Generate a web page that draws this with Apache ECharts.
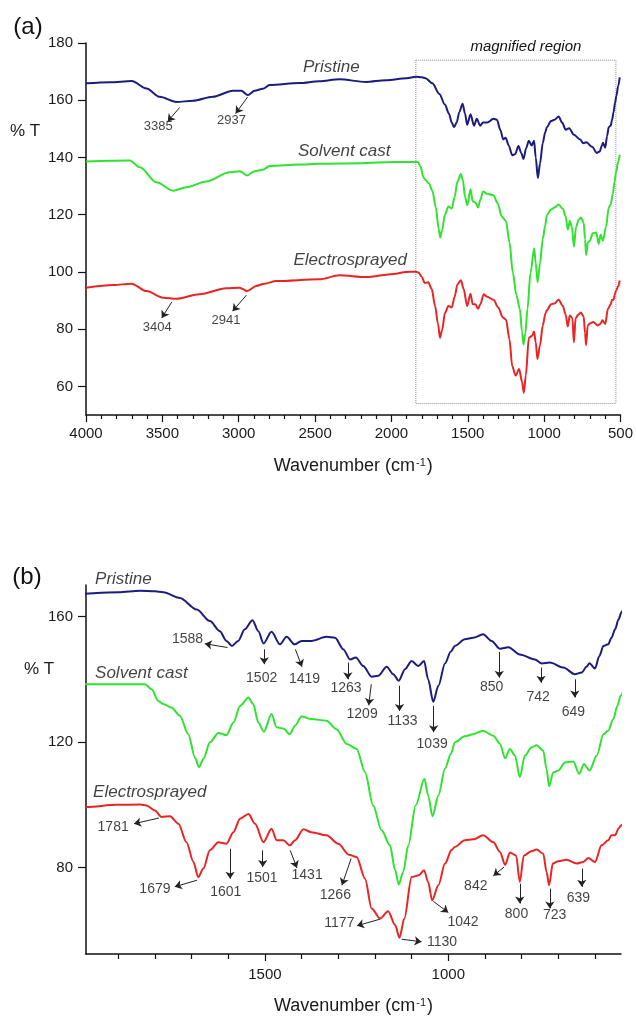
<!DOCTYPE html>
<html>
<head>
<meta charset="utf-8">
<script src="https://cdn.jsdelivr.net/npm/echarts@6/dist/echarts.min.js"></script>
<style>
  html, body { margin: 0; padding: 0; background: #fff; }
  #chart { width: 636px; height: 1016px; }
</style>
</head>
<body>
<div id="chart"></div>
<script>
const FONT = '"Liberation Sans", Arial, sans-serif'

// FTIR spectra: wavenumber (cm-1) and % T
const pristineWn = [4000, 3843, 3700, 3604, 3517, 3408, 3300, 3169, 3038, 2983, 2940, 2896, 2842, 2798, 2603, 2472, 2341, 2167, 2036, 1900, 1840, 1800, 1777, 1732, 1686, 1650, 1623, 1605, 1590, 1573, 1555, 1534, 1518, 1504, 1482, 1459, 1441, 1419, 1400, 1373, 1332, 1309, 1286, 1268, 1252, 1232, 1209, 1191, 1168, 1150, 1135, 1118, 1100, 1082, 1066, 1055, 1041, 1027, 1009, 993, 982, 955, 932, 905, 882, 859, 836, 805, 764, 745, 723, 686, 655, 636, 623, 615, 600, 588, 577, 564, 555, 545, 536, 527, 515, 505]
const pristineT = [165.9, 166.3, 166.7, 164.1, 161.2, 159.4, 159.8, 161.2, 163.3, 163.3, 161.8, 163.3, 164.0, 165.3, 166.0, 166.6, 167.3, 166.4, 167.0, 167.7, 168.2, 168.0, 167.7, 165.9, 162.2, 158.5, 155.3, 152.2, 150.6, 152.2, 155.9, 158.8, 155.3, 151.4, 155.1, 151.1, 153.5, 151.1, 152.2, 152.2, 153.5, 153.2, 149.5, 146.3, 146.9, 144.2, 140.8, 141.1, 144.0, 141.6, 139.5, 143.2, 145.8, 144.2, 145.8, 140.0, 132.8, 137.9, 145.0, 148.8, 150.6, 152.7, 153.2, 154.3, 152.2, 149.7, 150.2, 147.9, 146.3, 145.0, 145.3, 143.7, 141.6, 142.1, 144.0, 145.1, 143.4, 147.4, 150.6, 151.1, 153.2, 155.9, 159.0, 161.5, 165.0, 168.0]

const solventWn = [4000, 3713, 3647, 3538, 3430, 3343, 3212, 3060, 2994, 2946, 2896, 2842, 2798, 2603, 2472, 2200, 1986, 1827, 1809, 1791, 1777, 1755, 1732, 1709, 1691, 1680, 1668, 1650, 1627, 1605, 1586, 1568, 1545, 1532, 1518, 1503, 1482, 1468, 1450, 1432, 1418, 1400, 1373, 1332, 1305, 1277, 1250, 1227, 1205, 1182, 1159, 1145, 1135, 1123, 1109, 1089, 1065, 1055, 1043, 1027, 1009, 993, 982, 955, 932, 905, 877, 859, 845, 832, 818, 805, 791, 773, 759, 741, 732, 725, 714, 700, 682, 659, 643, 630, 615, 595, 577, 564, 550, 539, 530, 515, 505]
const solventT = [138.6, 138.9, 136.6, 131.3, 128.4, 129.6, 131.6, 134.8, 135.2, 133.7, 135.2, 135.7, 137.0, 137.5, 137.8, 138.0, 138.4, 138.4, 136.8, 133.1, 132.1, 131.0, 128.4, 122.5, 115.1, 112.0, 114.6, 119.9, 122.9, 122.2, 126.2, 131.5, 134.2, 132.1, 126.2, 123.3, 128.9, 124.7, 124.3, 122.5, 125.2, 128.1, 127.3, 126.8, 124.1, 119.4, 117.8, 110.4, 99.8, 91.9, 87.1, 79.2, 74.6, 78.6, 87.1, 99.8, 108.3, 103.0, 96.4, 103.0, 111.5, 116.2, 119.9, 121.8, 122.5, 123.6, 122.0, 119.4, 114.8, 117.8, 115.7, 108.8, 115.7, 118.3, 119.0, 117.2, 111.4, 105.9, 110.3, 110.9, 113.5, 113.8, 109.8, 113.0, 110.9, 115.7, 122.5, 123.6, 127.3, 131.5, 134.7, 138.5, 141.0]

const electroWn = [4000, 3821, 3702, 3604, 3495, 3408, 3256, 3082, 2994, 2944, 2885, 2831, 2755, 2472, 2341, 2167, 1986, 1905, 1840, 1823, 1800, 1782, 1759, 1736, 1714, 1695, 1682, 1668, 1650, 1627, 1605, 1586, 1568, 1545, 1527, 1504, 1482, 1468, 1450, 1432, 1418, 1395, 1373, 1332, 1300, 1271, 1250, 1227, 1209, 1186, 1164, 1145, 1133, 1120, 1100, 1080, 1066, 1055, 1044, 1027, 1009, 991, 982, 955, 932, 905, 877, 859, 845, 832, 815, 805, 794, 773, 759, 741, 732, 725, 715, 700, 677, 650, 632, 618, 600, 582, 564, 555, 545, 536, 529, 515, 505]
const electroT = [94.5, 95.4, 95.9, 93.3, 91.0, 90.6, 92.2, 94.3, 94.5, 93.3, 95.1, 95.9, 96.8, 97.4, 98.8, 98.2, 99.3, 100.0, 100.1, 99.8, 98.2, 96.1, 96.4, 94.0, 88.1, 81.8, 77.0, 79.7, 85.6, 88.1, 87.6, 91.3, 95.6, 97.1, 94.0, 88.1, 92.4, 88.7, 88.7, 87.1, 88.7, 92.2, 91.3, 90.3, 87.6, 84.1, 83.4, 76.5, 67.0, 63.8, 66.1, 61.7, 57.7, 63.8, 77.0, 77.6, 79.2, 75.4, 69.6, 74.4, 81.3, 85.6, 86.6, 88.7, 89.0, 90.3, 88.1, 85.0, 80.9, 84.8, 83.9, 75.4, 83.9, 85.2, 85.8, 84.4, 78.6, 74.4, 81.3, 82.0, 82.5, 81.3, 81.8, 83.1, 81.8, 87.1, 88.7, 90.3, 90.3, 92.4, 93.4, 95.0, 97.0]

const seriesNames = ['Pristine', 'Solvent cast', 'Electrosprayed']
const seriesColors = ['#1c1c7e', '#30e330', '#e82424']

// sample name labels: [wavenumber, %T, text]
const nameLabelsA = [[2394, 171.6, 'Pristine'], [2309, 142.3, 'Solvent cast'], [2270, 104.2, 'Electrosprayed']]
const nameLabelsB = [[1886, 171.7, 'Pristine'], [1837, 141.9, 'Solvent cast'], [1814, 104.1, 'Electrosprayed']]

// peak labels: text, text position, arrow start, arrow end (data coords)
const peaksA = [
  ['3385', [3527, 150.9], [3386, 157.5], [3465, 152.6]],
  ['2937', [3047, 153.0], [2942, 161.1], [3020, 155.4]],
  ['3404', [3533, 80.7], [3438, 89.5], [3504, 83.9]],
  ['2941', [3083, 83.2], [2949, 91.9], [3040, 86.3]]
]
const peaksB = [
  ['1588', [1711, 152.7], [1602, 150.1], [1664, 151.3]],
  ['1502', [1509, 140.5], [1502, 149.5], [1502, 144.8]],
  ['1419', [1392, 140.0], [1417, 149.5], [1399, 144.0]],
  ['1263', [1279, 137.0], [1274, 145.3], [1274, 140.0]],
  ['1209', [1235, 128.9], [1210, 138.4], [1217, 131.7]],
  ['1133', [1125, 126.8], [1133, 137.9], [1133, 129.9]],
  ['1039', [1044, 119.4], [1040, 131.5], [1040, 123.1]],
  ['850', [882, 137.4], [861, 148.7], [861, 140.5]],
  ['742', [755, 134.2], [747, 143.7], [747, 138.9]],
  ['649', [659, 129.6], [655, 140.0], [655, 134.2]],
  ['1781', [1914, 92.9], [1789, 95.8], [1857, 94.0]],
  ['1679', [1800, 73.3], [1685, 76.0], [1746, 73.9]],
  ['1601', [1607, 72.3], [1595, 86.0], [1595, 76.5]],
  ['1501', [1508, 76.5], [1506, 85.5], [1506, 80.2]],
  ['1431', [1385, 77.6], [1431, 85.5], [1413, 79.9]],
  ['1266', [1308, 71.2], [1265, 82.9], [1290, 74.4]],
  ['1177', [1297, 62.2], [1186, 63.6], [1249, 61.5]],
  ['1130', [1017, 56.4], [1127, 57.2], [1073, 56.4]],
  ['1042', [960, 62.8], [1041, 69.3], [1000, 65.7]],
  ['842', [925, 74.2], [848, 80.2], [877, 77.4]],
  ['800', [814, 65.1], [805, 74.9], [805, 68.6]],
  ['723', [710, 64.9], [723, 73.3], [723, 67.0]],
  ['639', [645, 70.2], [636, 79.7], [636, 73.9]]
]

const magnifiedBox = [[1840, 174], [530, 54]]

const yTicksA = [60, 80, 100, 120, 140, 160, 180]
const yTicksB = [80, 120, 160]
const xMajorB = [1000, 1500]
const xMinorB = [600, 700, 800, 900, 1100, 1200, 1300, 1400, 1600, 1700, 1800, 1900]

const spectra = [[pristineWn, pristineT], [solventWn, solventT], [electroWn, electroT]]

function zip(xs, ys) {
  return xs.map((x, i) => [x, ys[i]])
}

const axisLine = { show: true, onZero: false, lineStyle: { color: '#111', width: 1.5 } }
const tickLine = { color: '#111', width: 1.2 }
const labelStyle = { color: '#1a1a1a', fontSize: 15, fontFamily: FONT, formatter: (v) => String(v) }
const xName = '{a|Wavenumber (cm}{s|-1}{a|)}'
const xNameStyle = {
  color: '#1a1a1a',
  fontSize: 18,
  fontFamily: FONT,
  rich: {
    a: { fontSize: 18, fontFamily: FONT, color: '#1a1a1a' },
    s: { fontSize: 11, fontFamily: FONT, color: '#1a1a1a', verticalAlign: 'top', padding: [0, 1, 0, 1] }
  }
}

function spectrumSeries(panel) {
  return spectra.map(([wn, t], i) => ({
    type: 'line',
    name: seriesNames[i],
    xAxisIndex: panel === 0 ? 0 : 1,
    yAxisIndex: panel,
    data: zip(wn, t),
    showSymbol: false,
    smooth: 0.3,
    smoothMonotone: 'x',
    lineStyle: { color: seriesColors[i], width: 2 },
    silent: true,
    markArea: panel === 0 && i === 0 ? {
      silent: true,
      itemStyle: { color: 'rgba(0,0,0,0)', borderColor: '#8a8a8a', borderWidth: 1, borderType: 'dotted' },
      label: {
        show: true, position: 'top', distance: 5, offset: [10, 0],
        formatter: 'magnified region', fontStyle: 'italic', fontSize: 15, fontFamily: FONT, color: '#111'
      },
      data: [[{ coord: magnifiedBox[0] }, { coord: magnifiedBox[1] }]]
    } : undefined
  }))
}

function textSeries(panel, items, fontSize, italic) {
  return {
    type: 'scatter',
    xAxisIndex: panel === 0 ? 0 : 1,
    yAxisIndex: panel,
    symbolSize: 1,
    clip: false,
    silent: true,
    itemStyle: { color: 'rgba(0,0,0,0)' },
    data: items.map((d) => ({ value: [d[0], d[1]], name: d[2] })),
    label: {
      show: true, position: 'inside', formatter: '{b}',
      color: '#111', fontSize: fontSize, fontFamily: FONT, fontStyle: italic ? 'italic' : 'normal'
    }
  }
}

function arrowSeries(panel, peaks) {
  return {
    type: 'lines',
    coordinateSystem: 'cartesian2d',
    xAxisIndex: panel === 0 ? 0 : 1,
    yAxisIndex: panel,
    silent: true,
    symbol: ['none', 'arrow'],
    symbolSize: 7,
    lineStyle: { color: '#222', width: 1, opacity: 1 },
    data: peaks.map((p) => ({ coords: [p[2], p[3]] }))
  }
}

const chart = echarts.init(document.getElementById('chart'), null, { renderer: 'canvas' })

chart.setOption({
  animation: false,
  backgroundColor: '#fff',
  grid: [
    { left: 86, top: 43, width: 536, height: 372, containLabel: false },
    { left: 86, top: 585, width: 535, height: 370, containLabel: false }
  ],
  xAxis: [
    {
      type: 'value', gridIndex: 0, min: 500, max: 4000, interval: 500, inverse: true,
      axisLine: axisLine,
      axisTick: { length: 7, lineStyle: tickLine },
      minorTick: { show: true, splitNumber: 5, length: 4, lineStyle: tickLine },
      axisLabel: Object.assign({ margin: 11 }, labelStyle),
      splitLine: { show: false },
      name: xName, nameLocation: 'middle', nameGap: 42, nameTextStyle: xNameStyle
    },
    {
      type: 'value', gridIndex: 1, min: 529, max: 1988, inverse: true, position: 'bottom',
      axisLine: axisLine,
      axisTick: { length: 7, lineStyle: tickLine, customValues: xMajorB },
      axisLabel: Object.assign({ margin: 13, customValues: xMajorB }, labelStyle),
      splitLine: { show: false },
      name: xName, nameLocation: 'middle', nameGap: 43, nameTextStyle: xNameStyle
    },
    {
      type: 'value', gridIndex: 1, min: 529, max: 1988, inverse: true, position: 'bottom',
      axisLine: { show: false },
      axisTick: { length: 5, lineStyle: tickLine, customValues: xMinorB },
      axisLabel: { show: false },
      splitLine: { show: false }
    }
  ],
  yAxis: [
    {
      type: 'value', gridIndex: 0, min: 50, max: 180,
      axisLine: axisLine,
      axisTick: { length: 8, lineStyle: tickLine, customValues: yTicksA },
      axisLabel: Object.assign({ margin: 13, customValues: yTicksA }, labelStyle),
      splitLine: { show: false }
    },
    {
      type: 'value', gridIndex: 1, min: 52.5, max: 170,
      axisLine: axisLine,
      axisTick: { length: 8, lineStyle: tickLine, customValues: yTicksB },
      axisLabel: Object.assign({ margin: 13, customValues: yTicksB }, labelStyle),
      splitLine: { show: false }
    }
  ],
  graphic: [
    { type: 'text', x: 28, y: 27, style: { text: '(a)', fontSize: 24, fontFamily: FONT, fill: '#111', align: 'center', verticalAlign: 'middle' } },
    { type: 'text', x: 27, y: 577, style: { text: '(b)', fontSize: 24, fontFamily: FONT, fill: '#111', align: 'center', verticalAlign: 'middle' } },
    { type: 'text', x: 25, y: 131, style: { text: '% T', fontSize: 17, fontFamily: FONT, fill: '#1a1a1a', align: 'center', verticalAlign: 'middle' } },
    { type: 'text', x: 39, y: 669, style: { text: '% T', fontSize: 17, fontFamily: FONT, fill: '#1a1a1a', align: 'center', verticalAlign: 'middle' } }
  ],
  series: [
    ...spectrumSeries(0),
    ...spectrumSeries(1),
    textSeries(0, nameLabelsA, 17, true),
    textSeries(1, nameLabelsB, 17, true),
    textSeries(0, peaksA.map((p) => [p[1][0], p[1][1], p[0]]), 13, false),
    textSeries(1, peaksB.map((p) => [p[1][0], p[1][1], p[0]]), 14, false),
    arrowSeries(0, peaksA),
    arrowSeries(1, peaksB)
  ]
})
</script>
</body>
</html>
